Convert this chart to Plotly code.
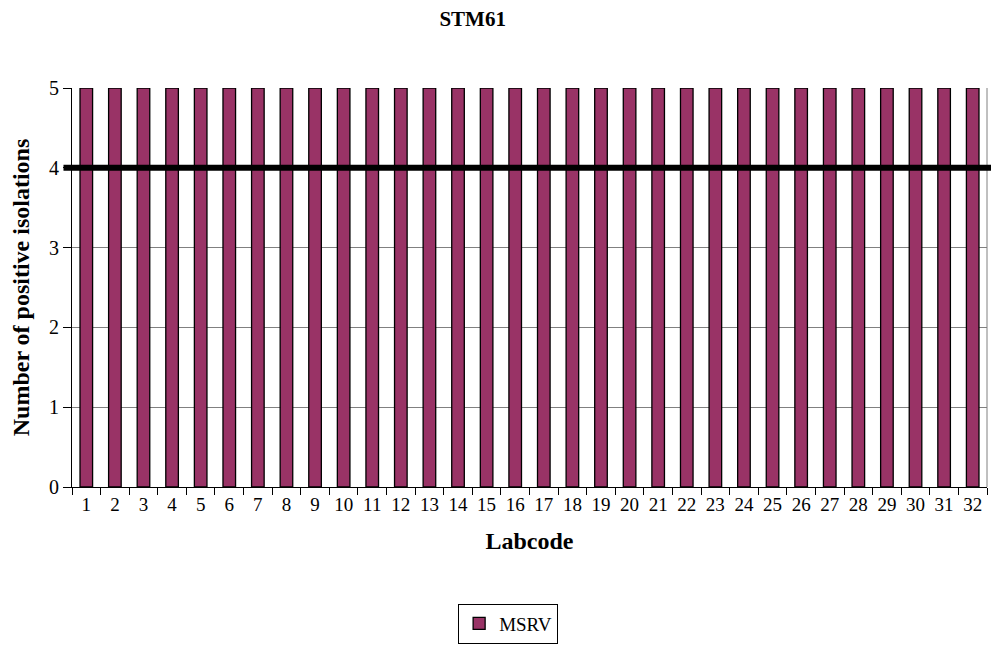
import plotly.graph_objects as go

# Lab codes and the number of positive isolations per lab
labcodes = [str(i) for i in range(1, 33)]
positives = [5] * 32
threshold = 4

SERIF = "Liberation Serif, Times New Roman, serif"

fig = go.Figure()
fig.add_trace(go.Bar(
    x=labcodes, y=positives, name="MSRV",
    marker=dict(color="#993366", line=dict(color="black", width=1.3)),
))

# Thick reference line at the threshold value
fig.add_shape(type="line", xref="paper", yref="y",
              x0=-0.0093, x1=1.01, y0=threshold, y1=threshold,
              line=dict(color="black", width=6), layer="above")
# Right border of the plot area
fig.add_shape(type="line", xref="paper", yref="paper",
              x0=1, x1=1, y0=0, y1=1,
              line=dict(color="#808080", width=1), layer="below")

fig.update_layout(
    width=991, height=648,
    margin=dict(l=72, r=4, t=88, b=156),
    paper_bgcolor="white", plot_bgcolor="white",
    font=dict(family=SERIF, size=19, color="black"),
    title=dict(text="<b>STM61</b>", x=0.477, xref="container", xanchor="center",
               y=1 - 19 / 648, yref="container", yanchor="middle",
               font=dict(size=21, family=SERIF)),
    bargap=0.56,
    showlegend=True,
    legend=dict(orientation="h", x=0.422, xanchor="left", y=-0.292, yanchor="top",
                bordercolor="black", borderwidth=1, font=dict(size=19, family=SERIF),
                itemwidth=30, tracegroupgap=0),
)
fig.update_xaxes(
    type="category", tickson="boundaries", ticks="outside", ticklen=7,
    tickcolor="black", showline=True, linecolor="black", linewidth=1,
    showgrid=False,
    title=dict(text="<b>Labcode</b>", font=dict(size=24, family=SERIF), standoff=18),
    tickfont=dict(size=19),
)
fig.update_yaxes(
    range=[0, 5], dtick=1, ticks="outside", ticklen=8, tickcolor="black",
    showline=True, linecolor="black", linewidth=1,
    showgrid=True, gridcolor="#808080", gridwidth=1, zeroline=False,
    title=dict(text="<b>Number of positive isolations</b>", font=dict(size=24, family=SERIF), standoff=12),
    tickfont=dict(size=20),
)

fig.write_html("out.html")
